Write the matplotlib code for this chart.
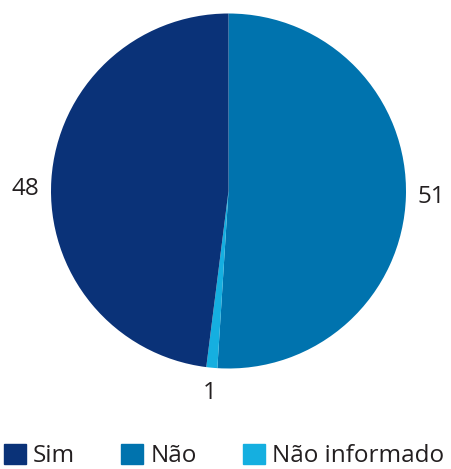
import matplotlib
matplotlib.use("Agg")
import matplotlib.pyplot as plt
from matplotlib.patches import Rectangle

categories = ["Não", "Não informado", "Sim"]
values = [51, 1, 48]
colors = ["#0073ae", "#15afe0", "#0a3278"]
legend_order = ["Sim", "Não", "Não informado"]

plt.rcParams["font.family"] = ["Open Sans", "DejaVu Sans"]
text_color = "#231f20"
font_size = 17.5

W, H = 451, 469
fig = plt.figure(figsize=(W / 100, H / 100), dpi=100)

# square axes centred on the pie
radius_px = 177.5
cx, cy = 228.5, H - 191
lim = 1.15
side = 2 * lim * radius_px
ax = fig.add_axes([(cx - side / 2) / W, (cy - side / 2) / H, side / W, side / H])

wedges, _, autotexts = ax.pie(
    values,
    colors=colors,
    startangle=90,
    counterclock=False,
    autopct=lambda p: f"{p:.0f}",
    pctdistance=1.145,
    wedgeprops=dict(linewidth=0),
    textprops=dict(fontsize=font_size, color=text_color),
)
# nudge the left-hand value label towards the horizontal
x, y = autotexts[2].get_position()
autotexts[2].set_position((x, y - 0.06))

ax.set_xlim(-lim, lim)
ax.set_ylim(-lim, lim)
ax.set_aspect("equal")
ax.axis("off")

handles = [Rectangle((0, 0), 1, 1, color=colors[categories.index(c)]) for c in legend_order]
fig.legend(
    handles,
    legend_order,
    ncol=3,
    loc="lower left",
    bbox_to_anchor=(4 / W, 1 / H),
    frameon=False,
    fontsize=font_size,
    labelcolor=text_color,
    handlelength=0.9,
    handleheight=0.9,
    handletextpad=0.3,
    columnspacing=1.9,
    borderpad=0,
    borderaxespad=0,
)

fig.savefig("out.png", dpi=100)
